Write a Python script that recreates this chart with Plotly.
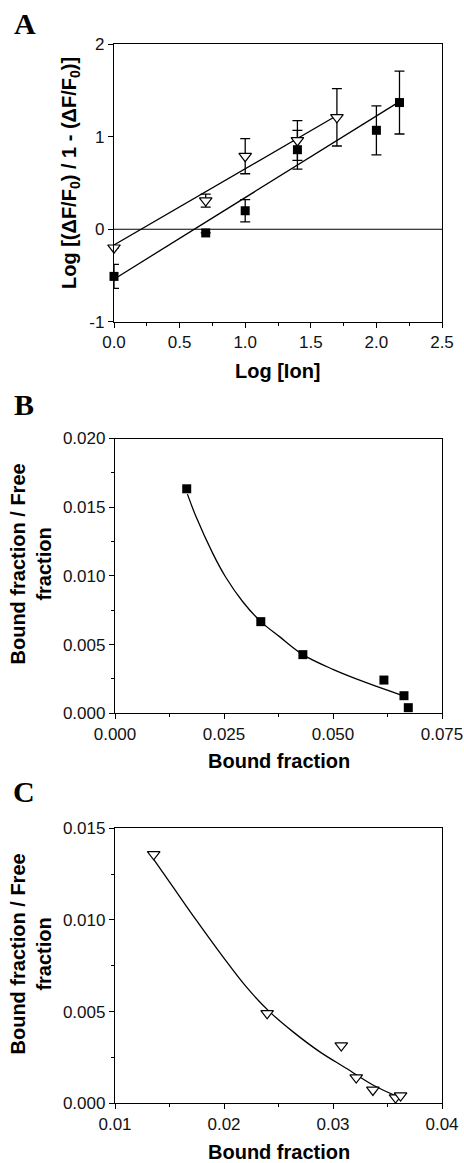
import plotly.graph_objects as go

# ---------------- Data ----------------
# Panel A
a_sq_x = [0.0, 0.699, 1.0, 1.398, 2.0, 2.176]
a_sq_y = [-0.51, -0.04, 0.20, 0.86, 1.07, 1.37]
a_sq_err = [0.13, 0.0, 0.12, 0.21, 0.265, 0.34]
a_tri_x = [0.0, 0.699, 1.0, 1.398, 1.699]
a_tri_y = [-0.20, 0.31, 0.79, 0.96, 1.21]
a_tri_err = [0.0, 0.07, 0.19, 0.215, 0.31]
a_sq_fit_x = [0.0, 2.176]
a_sq_fit_y = [-0.54, 1.38]
a_tri_fit_x = [0.0, 1.699]
a_tri_fit_y = [-0.17, 1.23]
a_xticks = [0.0, 0.5, 1.0, 1.5, 2.0, 2.5]
a_xticklabels = ["0.0", "0.5", "1.0", "1.5", "2.0", "2.5"]
a_yticks = [-1, 0, 1, 2]
a_yticklabels = ["-1", "0", "1", "2"]

# Panel B
b_x = [0.01645, 0.03344, 0.04309, 0.06168, 0.06628, 0.06727]
b_y = [0.01634, 0.00667, 0.00427, 0.00242, 0.00128, 0.00041]
b_fit_x = [0.01661, 0.01860, 0.02242, 0.02533, 0.02931, 0.03344, 0.03773, 0.04309, 0.04997, 0.05763, 0.06566]
b_fit_y = [0.01595, 0.01430, 0.01164, 0.00994, 0.00812, 0.00667, 0.00558, 0.00427, 0.00320, 0.00223, 0.00133]

# Panel C
c_x = [0.01355, 0.02396, 0.03076, 0.03213, 0.03366, 0.03574, 0.03620]
c_y = [0.01358, 0.00491, 0.00315, 0.00140, 0.00073, 0.00031, 0.00042]
c_fit_x = [0.01355, 0.01530, 0.01744, 0.01989, 0.02203, 0.02417, 0.02631, 0.02876, 0.03121, 0.03366, 0.03596]
c_fit_y = [0.01331, 0.01182, 0.01000, 0.00800, 0.00636, 0.00500, 0.00391, 0.00282, 0.00191, 0.00100, 0.00036]

W, H = 464, 1163

def px_x(p):
    return p / W

def px_y(p):
    return 1 - p / H

TICKFONT = dict(family="Liberation Sans, Arial, sans-serif", size=17, color="#111")
TITLEFONT = dict(family="Liberation Sans, Arial, sans-serif", size=20, color="#000")
LETTERFONT = dict(family="Liberation Serif, Times New Roman, serif", size=30, color="#000")

fig = go.Figure()

line_style = dict(color="black", width=1.3)
sq_marker = dict(symbol="square", size=9, color="black", line=dict(width=0))
tri_marker = dict(symbol="triangle-down", size=11, color="white", line=dict(color="black", width=1.2))

# Panel A traces
fig.add_trace(go.Scatter(x=a_sq_fit_x, y=a_sq_fit_y, mode="lines", line=line_style,
                         xaxis="x", yaxis="y", showlegend=False, cliponaxis=False))
fig.add_trace(go.Scatter(x=a_tri_fit_x, y=a_tri_fit_y, mode="lines", line=line_style,
                         xaxis="x", yaxis="y", showlegend=False, cliponaxis=False))
fig.add_trace(go.Scatter(x=a_sq_x, y=a_sq_y, mode="markers", marker=sq_marker,
                         error_y=dict(type="data", array=a_sq_err, visible=True, color="black",
                                      thickness=1.3, width=5),
                         xaxis="x", yaxis="y", showlegend=False, cliponaxis=False))
fig.add_trace(go.Scatter(x=a_tri_x, y=a_tri_y, mode="markers", marker=tri_marker,
                         error_y=dict(type="data", array=a_tri_err, visible=True, color="black",
                                      thickness=1.3, width=5),
                         xaxis="x", yaxis="y", showlegend=False, cliponaxis=False))

# Panel B traces
fig.add_trace(go.Scatter(x=b_fit_x, y=b_fit_y, mode="lines", line=dict(color="black", width=1.3, shape="spline"),
                         xaxis="x2", yaxis="y2", showlegend=False, cliponaxis=False))
fig.add_trace(go.Scatter(x=b_x, y=b_y, mode="markers", marker=sq_marker,
                         xaxis="x2", yaxis="y2", showlegend=False, cliponaxis=False))

# Panel C traces
fig.add_trace(go.Scatter(x=c_fit_x, y=c_fit_y, mode="lines", line=dict(color="black", width=1.3, shape="spline"),
                         xaxis="x3", yaxis="y3", showlegend=False, cliponaxis=False))
fig.add_trace(go.Scatter(x=c_x, y=c_y, mode="markers", marker=tri_marker,
                         xaxis="x3", yaxis="y3", showlegend=False, cliponaxis=False))

def axis(domain, rng, anchor, **kw):
    d = dict(domain=domain, range=rng, anchor=anchor, showline=True, linecolor="black", linewidth=1.3,
             mirror=True, ticks="outside", ticklen=5, tickwidth=1.2, tickcolor="black",
             showgrid=False, zeroline=False, tickfont=TICKFONT, fixedrange=True, automargin=False)
    d.update(kw)
    return d

xdom = [px_x(115), px_x(442)]

fig.update_layout(
    width=W, height=H, autosize=False, margin=dict(l=0, r=0, t=0, b=0, pad=0, autoexpand=False),
    paper_bgcolor="white", plot_bgcolor="white",
    xaxis=axis([px_x(114), px_x(442)], [0, 2.5], "y", tickmode="array", tickvals=a_xticks,
               ticktext=a_xticklabels, minor=dict(ticks="outside", ticklen=3, tickvals=[0.25, 0.75, 1.25, 1.75, 2.25],
                                                  tickcolor="black", tickwidth=1.2)),
    yaxis=axis([px_y(321.7), px_y(44.3)], [-1, 2], "x", tickmode="array", tickvals=a_yticks,
               ticktext=a_yticklabels),
    xaxis2=axis(xdom, [0, 0.075], "y2", dtick=0.025, tick0=0, tickformat=".3f",
                minor=dict(ticks="outside", ticklen=3, dtick=0.0125, tickcolor="black", tickwidth=1.2)),
    yaxis2=axis([px_y(713.3), px_y(438.5)], [0, 0.020], "x2", dtick=0.005, tick0=0, tickformat=".3f",
                minor=dict(ticks="outside", ticklen=3, dtick=0.0025, tickcolor="black", tickwidth=1.2)),
    xaxis3=axis(xdom, [0.01, 0.04], "y3", dtick=0.01, tick0=0.01, tickformat=".2f",
                minor=dict(ticks="outside", ticklen=3, dtick=0.005, tickcolor="black", tickwidth=1.2)),
    yaxis3=axis([px_y(1103.3), px_y(828.3)], [0, 0.015], "x3", dtick=0.005, tick0=0, tickformat=".3f",
                minor=dict(ticks="outside", ticklen=3, dtick=0.0025, tickcolor="black", tickwidth=1.2)),
)

# zero line in panel A
fig.add_shape(type="line", xref="x domain", yref="y", x0=0, x1=1, y0=0, y1=0,
              line=dict(color="black", width=1.2))

ann = []
# panel letters
for letter, cx, cy in [("A", 24.5, 24), ("B", 24, 404), ("C", 24, 791)]:
    ann.append(dict(text="<b>%s</b>" % letter, x=px_x(cx), y=px_y(cy), xref="paper", yref="paper",
                    xanchor="center", yanchor="middle", showarrow=False, font=LETTERFONT))
# x titles
for t, cx, cy in [("Log [Ion]", 278, 371), ("Bound fraction", 279, 761), ("Bound fraction", 279, 1152)]:
    ann.append(dict(text="<b>%s</b>" % t, x=px_x(cx), y=px_y(cy), xref="paper", yref="paper",
                    xanchor="center", yanchor="middle", showarrow=False, font=TITLEFONT))
# y titles
ann.append(dict(text="<b>Log [(ΔF/F<sub>0</sub>) / 1 - (ΔF/F<sub>0</sub>)]</b>", x=px_x(70), y=px_y(173),
                xref="paper", yref="paper", xanchor="center", yanchor="middle", textangle=-90,
                showarrow=False, font=TITLEFONT))
for cy in [564.5, 954.5]:
    ann.append(dict(text="<b>Bound fraction / Free<br>fraction</b>", x=px_x(30), y=px_y(cy),
                    xref="paper", yref="paper", xanchor="center", yanchor="middle", textangle=-90,
                    showarrow=False, font=TITLEFONT))
fig.update_layout(annotations=ann)

fig.write_html("out.html", config=dict(displayModeBar=False),
               post_script="document.body.style.margin='0px';document.body.style.overflow='hidden';")
